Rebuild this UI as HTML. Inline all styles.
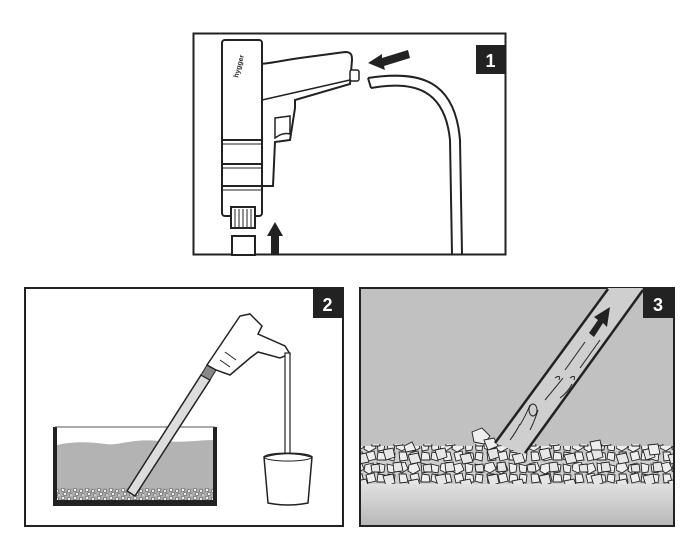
<!DOCTYPE html>
<html><head><meta charset="utf-8"><style>
html,body{margin:0;padding:0;background:#fff;}
svg{display:block;}
text{font-family:"Liberation Sans",sans-serif;font-weight:bold;}
</style></head><body>
<svg width="700" height="560" viewBox="0 0 700 560" xmlns="http://www.w3.org/2000/svg">
<defs>
<linearGradient id="floor" x1="0" y1="0" x2="0" y2="1">
<stop offset="0" stop-color="#e4e4e4"/><stop offset="1" stop-color="#b8b8b8"/>
</linearGradient>
<pattern id="grav" x="0" y="0" width="44" height="22" patternUnits="userSpaceOnUse">
<rect width="44" height="22" fill="#cfcfcf"/>
<g fill="#eee" stroke="#222" stroke-width="0.9">
<polygon points="1,2 9,0 12,7 6,11 0,8"/>
<polygon points="13,3 21,1 24,8 17,12 12,9"/>
<polygon points="25,1 33,3 32,10 26,11"/>
<polygon points="35,2 43,4 42,11 36,10"/>
<polygon points="3,12 10,12 12,20 4,21"/>
<polygon points="14,13 22,11 24,19 16,21"/>
<polygon points="26,12 33,13 34,20 25,20"/>
<polygon points="36,12 43,13 42,21 35,19"/>
</g>
</pattern>
<pattern id="grav2" x="17" y="5" width="52" height="26" patternUnits="userSpaceOnUse">
<g fill="#e6e6e6" stroke="#222" stroke-width="0.9">
<polygon points="2,3 12,1 14,10 5,13"/>
<polygon points="27,8 37,6 40,15 30,17"/>
<polygon points="12,16 20,15 22,24 13,25"/>
<polygon points="42,18 50,17 51,25 43,25"/>
</g>
</pattern>
<pattern id="fine" x="0" y="0" width="12" height="8" patternUnits="userSpaceOnUse">
<rect width="12" height="8" fill="#aaa"/>
<g fill="#eee" stroke="#333" stroke-width="0.5">
<circle cx="3" cy="2" r="1.8"/><circle cx="9" cy="3" r="1.6"/><circle cx="5" cy="6" r="1.7"/><circle cx="11" cy="7" r="1.3"/>
</g>
</pattern>
</defs>

<!-- PANEL 1 -->
<rect x="193.5" y="33.5" width="312" height="221" fill="#fff" stroke="#222" stroke-width="2"/>
<rect x="476" y="45" width="29" height="29" fill="#222"/>
<text x="490.5" y="67" font-size="18" fill="#fff" text-anchor="middle">1</text>
<path d="M368,78 C420,70 455,80 460,140 L462,254" fill="none" stroke="#222" stroke-width="2"/>
<path d="M371,88 C415,80 445,90 450,140 L452,254" fill="none" stroke="#222" stroke-width="2"/>
<line x1="368" y1="78" x2="371" y2="88" stroke="#222" stroke-width="2"/>
<polygon points="368,63 382,54 382,58 408,50 410,58 384,66 385,70" fill="#222"/>
<path d="M253,62 C262,66 272,62 300,58 L345,52 C352,52 352,56 352,60 L350,84 L295,100 L295,108 L290,140 L275,142 L273,186 L262,186 L262,110 L253,110 Z" fill="#fff" stroke="#222" stroke-width="2"/>
<line x1="262" y1="100" x2="350" y2="80" stroke="#222" stroke-width="1.5"/>
<path d="M275,118 L290,116 L290,134 C283,132 278,136 275,138 Z" fill="none" stroke="#222" stroke-width="1.5"/>
<rect x="350" y="70" width="9" height="11" rx="2" fill="#fff" stroke="#222" stroke-width="1.5"/>
<rect x="222" y="40" width="40" height="176" rx="3" fill="#fff" stroke="#222" stroke-width="2"/>
<line x1="222" y1="140" x2="262" y2="140" stroke="#222" stroke-width="2"/>
<line x1="222" y1="144" x2="262" y2="144" stroke="#222" stroke-width="1"/>
<line x1="222" y1="164" x2="262" y2="164" stroke="#222" stroke-width="2"/>
<line x1="222" y1="168" x2="262" y2="168" stroke="#222" stroke-width="1"/>
<line x1="222" y1="186" x2="262" y2="186" stroke="#222" stroke-width="2"/>
<line x1="222" y1="190" x2="262" y2="190" stroke="#222" stroke-width="1"/>
<text x="238" y="78" font-size="7" fill="#222" transform="rotate(-75 238 78)">hygger</text>
<rect x="231" y="207" width="24" height="21" fill="#fff" stroke="#222" stroke-width="2"/>
<g stroke="#222" stroke-width="1"><line x1="235" y1="209" x2="235" y2="227"/><line x1="239" y1="209" x2="239" y2="227"/><line x1="243" y1="209" x2="243" y2="227"/><line x1="247" y1="209" x2="247" y2="227"/><line x1="251" y1="209" x2="251" y2="227"/></g>
<rect x="232" y="236" width="23" height="19" fill="#fff" stroke="#222" stroke-width="2"/>
<polygon points="275,222 283,236 279,236 279,255 271,255 271,236 267,236" fill="#222"/>

<!-- PANEL 2 -->
<rect x="25" y="288" width="318" height="238" fill="#fff" stroke="#222" stroke-width="2"/>
<rect x="313" y="289" width="29" height="29" fill="#222"/>
<text x="327.5" y="311" font-size="18" fill="#fff" text-anchor="middle">2</text>
<path d="M57,490 L57,445 C75,441 90,442 105,444 C120,446 130,438 160,441 C185,443 200,440 213,440 L213,490 Z" fill="#b3b3b3"/>
<rect x="57" y="488" width="156" height="12" fill="url(#fine)"/>
<rect x="53" y="427" width="4" height="79" fill="#222"/>
<rect x="213" y="427" width="4" height="79" fill="#222"/>
<rect x="53" y="500" width="164" height="6" fill="#222"/>
<line x1="55" y1="427" x2="215" y2="427" stroke="#555" stroke-width="1"/>
<polygon points="127,491 135,496 210,380 201,375" fill="#ddd" stroke="#222" stroke-width="1.5"/>
<polygon points="201,375 210,380 216,370 207,365" fill="#888" stroke="#222" stroke-width="1"/>
<path d="M207,365 L240,316 L250,314 L262,326 L258,334 L285,346 L290,354 L280,358 L258,352 L250,358 L230,375 L216,370 Z" fill="#fff" stroke="#222" stroke-width="1.5"/>
<line x1="225" y1="352" x2="236" y2="360" stroke="#222" stroke-width="1"/>
<line x1="220" y1="360" x2="230" y2="367" stroke="#222" stroke-width="1"/>
<rect x="285" y="353" width="5" height="113" fill="#fff" stroke="#222" stroke-width="1.2"/>
<path d="M264,457 Q288,450 312,457 L308,503 Q288,507 268,503 Z" fill="#fff" stroke="#222" stroke-width="1.5"/>
<ellipse cx="288" cy="457" rx="24" ry="4" fill="none" stroke="#222" stroke-width="1"/>

<!-- PANEL 3 -->
<rect x="360" y="288" width="314" height="238" fill="#c1c1c1" stroke="#222" stroke-width="2"/>
<rect x="361" y="480" width="312" height="45" fill="url(#floor)"/>
<rect x="361" y="446" width="312" height="38" fill="url(#grav)"/>
<rect x="361" y="444" width="312" height="40" fill="url(#grav2)"/>
<g fill="#eee" stroke="#222" stroke-width="0.9">
<polygon points="472,432 482,428 490,436 484,444 474,442"/>
<polygon points="484,440 494,438 498,446 488,450"/>
<polygon points="404,446 412,442 416,450 406,452"/>
<polygon points="590,442 600,440 602,450 592,450"/>
<polygon points="648,445 658,444 660,454 650,455"/>
</g>
<polygon points="495,443 608,288 643,288 525,455" fill="#cfcfcf"/>
<line x1="495" y1="443" x2="608" y2="289" stroke="#222" stroke-width="2.5"/>
<line x1="525" y1="453" x2="643" y2="290" stroke="#222" stroke-width="2.5"/>
<polygon points="610,307 607,327 603,323 594,337 589,333 598,320 594,317" fill="#222"/>
<g fill="none" stroke="#222" stroke-width="1">
<line x1="565" y1="370" x2="585" y2="342"/><line x1="580" y1="368" x2="600" y2="340"/>
<path d="M555,378 q6,-4 4,2 M570,378 q6,-4 4,2"/>
<path d="M545,400 q10,-12 18,-22 M560,398 q8,-6 12,-14"/>
<ellipse cx="533" cy="410" rx="4" ry="6"/>
<path d="M520,425 q6,-10 10,-20 M510,440 q6,-8 10,-16 M530,430 q5,-10 8,-20"/>
</g>
<rect x="643" y="289" width="30" height="29" fill="#222"/>
<text x="658" y="311" font-size="18" fill="#fff" text-anchor="middle">3</text>
</svg>
</body></html>
